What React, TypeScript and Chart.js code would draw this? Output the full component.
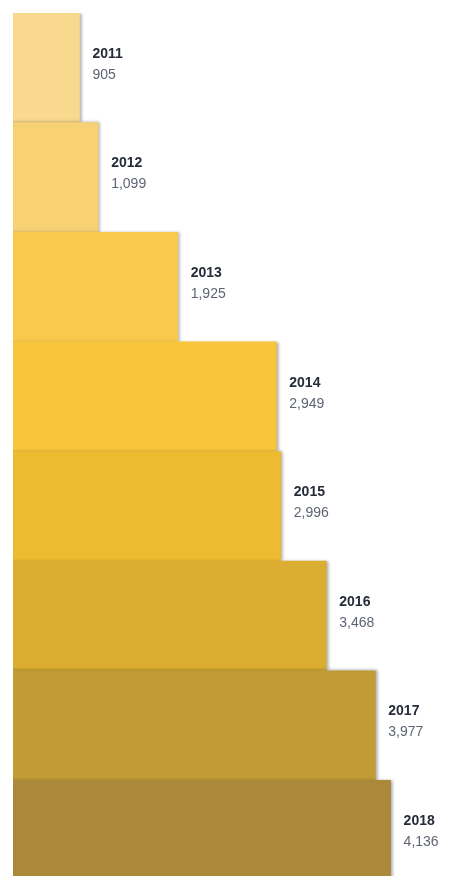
import React, { useEffect, useRef } from "react";
import { Chart, registerables } from "chart.js";

Chart.register(...registerables);

const years = ["2011", "2012", "2013", "2014", "2015", "2016", "2017", "2018"];
const values = [905, 1099, 1925, 2949, 2996, 3468, 3977, 4136];
const valueLabels = ["905", "1,099", "1,925", "2,949", "2,996", "3,468", "3,977", "4,136"];
const barColors = [
  "#f9d98e",
  "#f8d175",
  "#f8c94c",
  "#f9c53a",
  "#ecbb30",
  "#dbad30",
  "#c09b36",
  "#ab883a",
];

export default function App() {
  const ref = useRef<HTMLCanvasElement>(null);

  useEffect(() => {
    if (!ref.current) return;
    const shadowPlugin = {
      id: "barShadow",
      beforeDatasetsDraw(chart: any) {
        const ctx = chart.ctx;
        ctx.save();
        ctx.shadowColor = "rgba(60,60,60,0.45)";
        ctx.shadowOffsetX = 2;
        ctx.shadowOffsetY = 0;
        ctx.shadowBlur = 3;
      },
      afterDatasetsDraw(chart: any) {
        const ctx = chart.ctx;
        ctx.restore();
        const meta = chart.getDatasetMeta(0);
        ctx.save();
        ctx.textAlign = "left";
        ctx.textBaseline = "middle";
        meta.data.forEach((bar: any, i: number) => {
          const x = bar.x + 13;
          ctx.font = "bold 14px 'Liberation Sans', Arial, sans-serif";
          ctx.fillStyle = "#262c3a";
          ctx.fillText(years[i], x, bar.y - 14);
          ctx.font = "14px 'Liberation Sans', Arial, sans-serif";
          ctx.fillStyle = "#5d6573";
          ctx.fillText(valueLabels[i], x, bar.y + 7);
        });
        ctx.restore();
      },
    };

    const chart = new Chart(ref.current, {
      type: "bar",
      data: {
        labels: years,
        datasets: [
          {
            data: values,
            backgroundColor: barColors,
            borderWidth: 0,
            barPercentage: 1,
            categoryPercentage: 1,
          },
        ],
      },
      options: {
        indexAxis: "y",
        animation: false,
        responsive: true,
        maintainAspectRatio: false,
        layout: { padding: { left: 13, top: 13, right: 0, bottom: 0 } },
        plugins: {
          legend: { display: false },
          tooltip: { enabled: false },
        },
        scales: {
          x: { display: false, min: 215, max: 4919 },
          y: { display: false },
        },
      },
      plugins: [shadowPlugin],
    });
    return () => chart.destroy();
  }, []);

  return (
    <div
      style={{
        position: "fixed",
        left: 0,
        top: 0,
        width: 466,
        height: 876,
        overflow: "hidden",
        background: "#ffffff",
      }}
    >
      <div style={{ position: "relative", width: 466, height: 890 }}>
        <canvas ref={ref} />
      </div>
    </div>
  );
}
